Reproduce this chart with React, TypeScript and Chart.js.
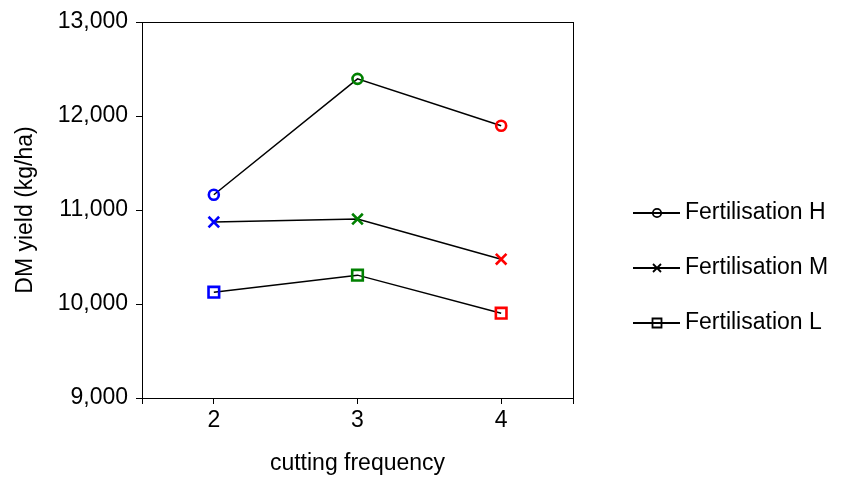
import { useEffect, useRef } from 'react';
import { Chart, registerables } from 'chart.js';

Chart.register(...registerables);

const categories = [2, 3, 4];
const seriesLabels = ['Fertilisation H', 'Fertilisation M', 'Fertilisation L'];
const valuesH = [11162, 12395, 11897];
const valuesM = [10872, 10904, 10477];
const valuesL = [10126, 10307, 9902];
const pointColors = ['#0000FF', '#008000', '#FF0000'];
const seriesStyles = ['circle', 'crossRot', 'rect'];
const seriesRadii = [5, 7.5, 7.5];
const yTicks = [9000, 10000, 11000, 12000, 13000];
const xBounds = [1.5, 4.5];

const FONT = 'Liberation Sans, Arial, sans-serif';

export default function App() {
  const ref = useRef<HTMLCanvasElement | null>(null);

  useEffect(() => {
    if (!ref.current) return;
    const allValues = [valuesH, valuesM, valuesL];

    const frame = {
      id: 'frame',
      afterDraw(chart: any) {
        const { ctx, chartArea } = chart;
        ctx.save();
        ctx.strokeStyle = '#000';
        ctx.lineWidth = 1;
        ctx.strokeRect(
          Math.round(chartArea.left) + 0.5,
          Math.round(chartArea.top) + 0.5,
          Math.round(chartArea.right - chartArea.left),
          Math.round(chartArea.bottom - chartArea.top)
        );
        ctx.restore();
      },
    };

    const legend = {
      id: 'customLegend',
      afterDraw(chart: any) {
        const { ctx, chartArea } = chart;
        const x0 = chartArea.right + 60;
        chart.data.datasets.forEach((ds: any, i: number) => {
          const y = 213 + i * 55;
          ctx.save();
          ctx.strokeStyle = '#000';
          ctx.lineWidth = 2;
          ctx.beginPath();
          ctx.moveTo(x0, y);
          ctx.lineTo(x0 + 47, y);
          ctx.stroke();
          ctx.lineWidth = 1.8;
          const cx = x0 + 24;
          ctx.beginPath();
          if (seriesStyles[i] === 'circle') {
            ctx.arc(cx, y, 4.2, 0, Math.PI * 2);
          } else if (seriesStyles[i] === 'crossRot') {
            ctx.moveTo(cx - 4, y - 4);
            ctx.lineTo(cx + 4, y + 4);
            ctx.moveTo(cx + 4, y - 4);
            ctx.lineTo(cx - 4, y + 4);
          } else {
            ctx.rect(cx - 4.5, y - 4.5, 9, 9);
          }
          ctx.stroke();
          ctx.fillStyle = '#000';
          ctx.font = `23px ${FONT}`;
          ctx.textAlign = 'left';
          ctx.textBaseline = 'middle';
          ctx.fillText(ds.label, x0 + 52, y);
          ctx.restore();
        });
      },
    };

    const chart = new Chart(ref.current, {
      type: 'line',
      data: {
        datasets: allValues.map((vals, i) => ({
          label: seriesLabels[i],
          data: categories.map((c, j) => ({ x: c, y: vals[j] })),
          borderColor: '#000',
          borderWidth: 1.5,
          pointStyle: seriesStyles[i] as any,
          pointRadius: seriesRadii[i],
          pointHoverRadius: seriesRadii[i],
          pointBorderWidth: 2.6,
          pointBorderColor: pointColors,
          pointBackgroundColor: 'transparent',
          fill: false,
          tension: 0,
        })),
      },
      options: {
        animation: false,
        responsive: true,
        maintainAspectRatio: false,
        layout: { padding: { top: 22, right: 270, left: 0, bottom: 0 } },
        plugins: {
          legend: { display: false },
          tooltip: { enabled: false },
        },
        scales: {
          x: {
            type: 'linear',
            min: xBounds[0],
            max: xBounds[1],
            afterBuildTicks: (scale: any) => {
              scale.ticks = [xBounds[0], ...categories, xBounds[1]].map((v) => ({ value: v }));
            },
            afterFit: (scale: any) => {
              scale.height = 80;
            },
            ticks: {
              callback: (v: any) => (categories.includes(Number(v)) ? String(v) : ''),
              color: '#000',
              font: { family: FONT, size: 23 },
              padding: 3,
              maxRotation: 0,
              autoSkip: false,
            },
            grid: {
              display: true,
              drawOnChartArea: false,
              drawTicks: true,
              tickLength: 6,
              color: '#000',
            },
            border: { display: true, color: '#000' },
            title: {
              display: true,
              text: 'cutting frequency',
              color: '#000',
              font: { family: FONT, size: 23 },
              padding: { top: 0, bottom: 1 },
            },
          },
          y: {
            type: 'linear',
            min: yTicks[0],
            max: yTicks[yTicks.length - 1],
            afterBuildTicks: (scale: any) => {
              scale.ticks = yTicks.map((v) => ({ value: v }));
            },
            afterFit: (scale: any) => {
              scale.width = 142;
            },
            ticks: {
              callback: (v: any) => Number(v).toLocaleString('en-US'),
              color: '#000',
              font: { family: FONT, size: 23 },
              padding: 8,
            },
            grid: {
              display: true,
              drawOnChartArea: false,
              drawTicks: true,
              tickLength: 6,
              color: '#000',
            },
            border: { display: true, color: '#000' },
            title: {
              display: true,
              text: 'DM yield (kg/ha)',
              color: '#000',
              font: { family: FONT, size: 23 },
              padding: { top: 12, bottom: 0 },
            },
          },
        },
      },
      plugins: [frame, legend],
    });

    return () => chart.destroy();
  }, []);

  return (
    <div style={{ position: 'absolute', left: 0, top: 0, width: 843, height: 478, background: '#fff' }}>
      <canvas ref={ref} />
    </div>
  );
}
